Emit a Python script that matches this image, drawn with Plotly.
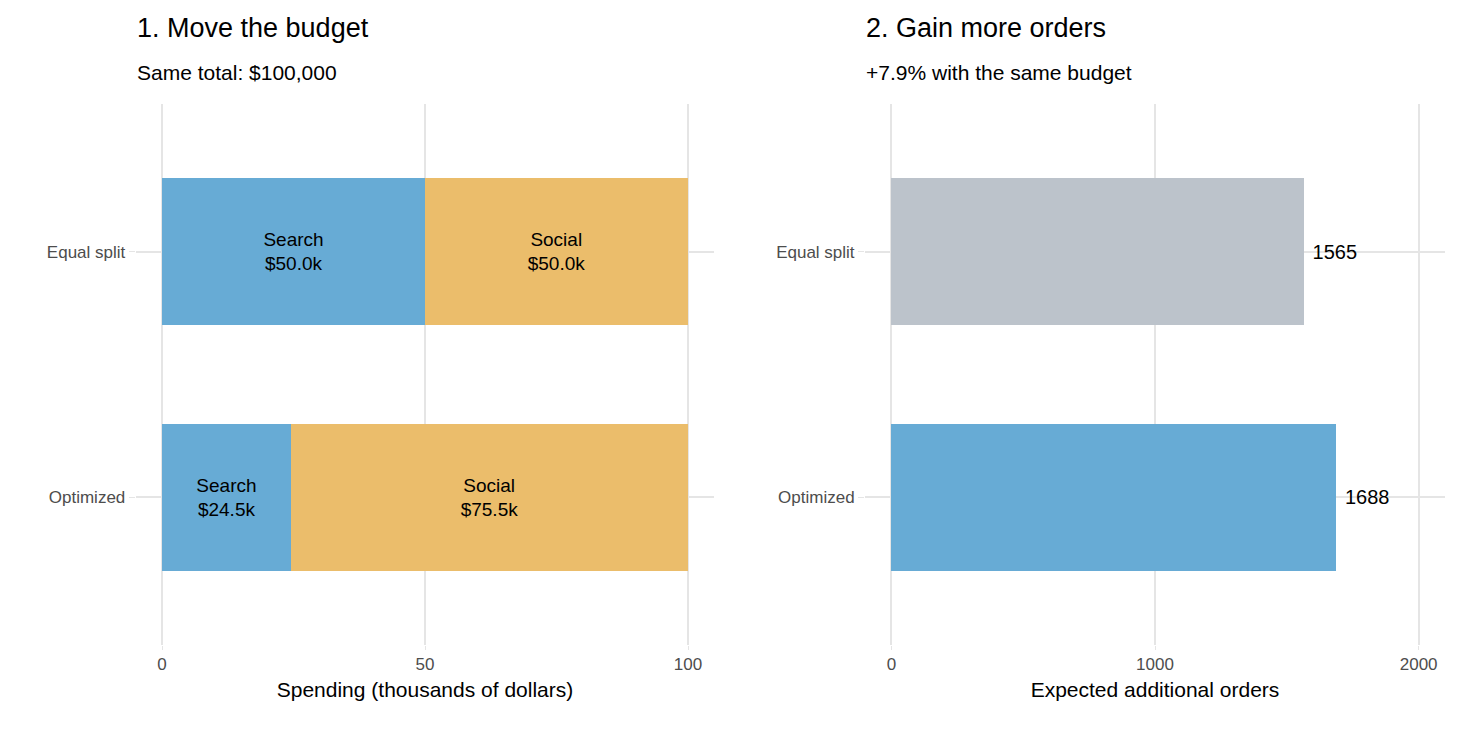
import plotly.graph_objects as go

scenarios = ["Equal split", "Optimized"]
search_k = [50.0, 24.5]
social_k = [50.0, 75.5]
orders = [1565, 1688]

blue = "#67ABD5"
orange = "#EBBD6B"
gray = "#BCC3CB"
font = "Liberation Sans, Arial, sans-serif"

W, H = 1459, 729
dx, dy = 8, 8  # page offset correction


def px_x(p):
    return (p - dx) / W


def px_y(p):
    return 1 - (p - dy) / H


fig = go.Figure()
fig.add_trace(go.Bar(
    y=scenarios, x=search_k, orientation="h", marker_color=blue, width=0.6,
    marker_line_width=0,
    text=[f"Search<br>${v:.1f}k" for v in search_k], textposition="inside",
    insidetextanchor="middle", textfont=dict(size=19, color="black"),
    xaxis="x", yaxis="y", showlegend=False))
fig.add_trace(go.Bar(
    y=scenarios, x=social_k, orientation="h", marker_color=orange, width=0.6,
    marker_line_width=0,
    text=[f"Social<br>${v:.1f}k" for v in social_k], textposition="inside",
    insidetextanchor="middle", textfont=dict(size=19, color="black"),
    xaxis="x", yaxis="y", showlegend=False))
fig.add_trace(go.Bar(
    y=scenarios, x=orders, orientation="h", marker_color=[gray, blue], width=0.6,
    marker_line_width=0,
    text=[f" {v}" for v in orders], textposition="outside", cliponaxis=False,
    textfont=dict(size=20, color="black"),
    xaxis="x2", yaxis="y2", showlegend=False))

grid = "#E5E5E5"
common_x = dict(showgrid=True, gridcolor=grid, gridwidth=1.5, zeroline=False,
                tickfont=dict(size=17, color="#4D4D4D"), ticks="outside",
                ticklen=4, tickcolor=grid, title_font=dict(size=21, color="black"),
                title_standoff=8)
common_y = dict(showgrid=True, gridcolor=grid, gridwidth=1.5, zeroline=False,
                tickfont=dict(size=17, color="#4D4D4D"), ticks="outside",
                ticklen=6, tickcolor=grid, range=[1.6, -0.6])

fig.update_layout(
    width=W, height=H, barmode="stack", bargap=0.4,
    plot_bgcolor="white", paper_bgcolor="white",
    font=dict(family=font, color="black"),
    margin=dict(l=0, r=0, t=0, b=0),
    xaxis=dict(domain=[px_x(135.7), px_x(714.3)], range=[-5, 105], tickvals=[0, 50, 100],
               title_text="Spending (thousands of dollars)", anchor="y", **common_x),
    yaxis=dict(domain=[px_y(645), px_y(104)], anchor="x", **common_y),
    xaxis2=dict(domain=[px_x(865), px_x(1445)], range=[-100, 2100], tickvals=[0, 1000, 2000],
                title_text="Expected additional orders", anchor="y2", **common_x),
    yaxis2=dict(domain=[px_y(645), px_y(104)], anchor="x2", **common_y),
    annotations=[
        dict(text="1. Move the budget", x=px_x(135), y=px_y(28), xref="paper", yref="paper",
             xanchor="left", yanchor="middle", showarrow=False, font=dict(size=27)),
        dict(text="Same total: $100,000", x=px_x(135), y=px_y(73), xref="paper", yref="paper",
             xanchor="left", yanchor="middle", showarrow=False, font=dict(size=21)),
        dict(text="2. Gain more orders", x=px_x(864), y=px_y(28), xref="paper", yref="paper",
             xanchor="left", yanchor="middle", showarrow=False, font=dict(size=27)),
        dict(text="+7.9% with the same budget", x=px_x(864), y=px_y(73), xref="paper", yref="paper",
             xanchor="left", yanchor="middle", showarrow=False, font=dict(size=21)),
    ],
)

fig.write_html("out.html")
